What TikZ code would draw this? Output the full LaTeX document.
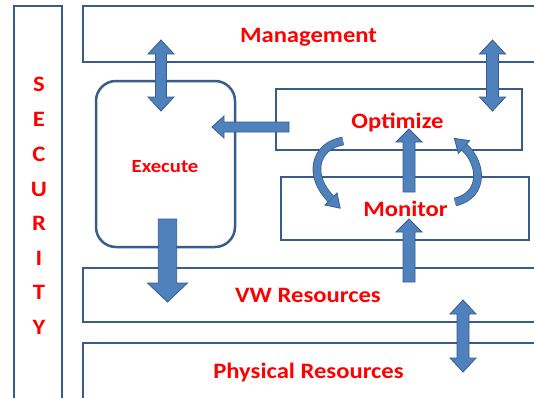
\documentclass[tikz,border=0pt]{standalone}
\usepackage{fontspec}
\setmainfont{Carlito}
\usepackage{graphicx}
\definecolor{bline}{HTML}{385D8A}
\definecolor{afill}{HTML}{4F81BD}
\newcommand{\lblw}[1]{\scalebox{1.12}[1]{#1}}
% vertical block arrow: x, tail y, tip y, shaft half, head half, signed head length
\newcommand{\blkV}[6]{%
  \filldraw[blk] ({#1-#4},{#2}) -- ({#1-#4},{#3+#6}) -- ({#1-#5},{#3+#6}) -- ({#1},{#3})
    -- ({#1+#5},{#3+#6}) -- ({#1+#4},{#3+#6}) -- ({#1+#4},{#2}) -- cycle;}
% vertical double block arrow: x, top, bottom, shaft half, head half, head length
\newcommand{\blkVV}[6]{%
  \filldraw[blk] ({#1},{#2}) -- ({#1+#5},{#2+#6}) -- ({#1+#4},{#2+#6}) -- ({#1+#4},{#3-#6})
    -- ({#1+#5},{#3-#6}) -- ({#1},{#3}) -- ({#1-#5},{#3-#6}) -- ({#1-#4},{#3-#6})
    -- ({#1-#4},{#2+#6}) -- ({#1-#5},{#2+#6}) -- cycle;}
% horizontal block arrow: y, tail x, tip x, shaft half, head half, signed head length
\newcommand{\blkH}[6]{%
  \filldraw[blk] ({#2},{#1-#4}) -- ({#3+#6},{#1-#4}) -- ({#3+#6},{#1-#5}) -- ({#3},{#1})
    -- ({#3+#6},{#1+#5}) -- ({#3+#6},{#1+#4}) -- ({#2},{#1+#4}) -- cycle;}
\tikzset{
  box/.style={draw=bline, line width=2.5pt, rectangle, inner sep=0pt},
  blk/.style={fill=afill, draw=bline, line width=0.8pt, line join=miter},
  band/.style={draw=bline, line width=0.8pt, double=afill, double distance=7pt},
  lbl/.style={text=red, font=\bfseries\fontsize{22}{22}\selectfont, anchor=base, inner sep=0pt},
}
\begin{document}
\begin{tikzpicture}[x=1pt,y=-1pt]
\useasboundingbox (0,0) rectangle (534,397);
\fill[white] (0,0) rectangle (534,397);
\clip (0,0) rectangle (534,397);

% boxes
\node[box, minimum width=48, minimum height=404] (sec) at (38,208) {};
\node[box, minimum width=477, minimum height=56] (mgmt) at (321.5,34) {};
\node[box, minimum width=246, minimum height=61] (opt) at (399,119.5) {};
\node[box, minimum width=248, minimum height=63] (mon) at (405,208.5) {};
\node[box, minimum width=477, minimum height=54] (vw) at (321.5,295) {};
\node[box, minimum width=477, minimum height=77] (phys) at (321.5,381.5) {};
\node[box, rounded corners=20pt, minimum width=139, minimum height=166] (exec) at (165.5,164) {};

% labels
\node[lbl] (tmgmt) at (308.5,42) {\lblw{Management}};
\node[lbl] (topt) at (397.5,128) {\lblw{Optimize}};
\node[lbl, font=\bfseries\fontsize{18.5}{18.5}\selectfont] (texec) at (165,172.5) {\lblw{Execute}};
\node[lbl] (tmon) at (405.5,216) {\lblw{Monitor}};
\node[lbl] (tvw) at (308,302) {\lblw{VW Resources}};
\node[lbl] (tphys) at (308.5,378) {\lblw{Physical Resources}};
\node[lbl] (s1) at (39,91) {\lblw{S}};
\node[lbl] (s2) at (39,126) {\lblw{E}};
\node[lbl] (s3) at (39,161) {\lblw{C}};
\node[lbl] (s4) at (39,196) {\lblw{U}};
\node[lbl] (s5) at (39,230) {\lblw{R}};
\node[lbl] (s6) at (39,265) {\lblw{I}};
\node[lbl] (s7) at (39,299) {\lblw{T}};
\node[lbl] (s8) at (39,334) {\lblw{Y}};

% block arrows
\blkVV{161}{40}{111}{5.5}{13}{14}
\blkVV{492.5}{40}{111}{6}{13}{14}
\blkH{127}{289}{212}{5}{11}{12}
\blkV{409}{192}{129}{6}{13}{13}
\blkV{409}{282}{219}{6}{13}{13}
\blkV{167.5}{219}{302}{9.2}{20}{-19}
\blkVV{463}{300}{372}{6}{13}{14}

% curved arrows
\filldraw[blk] (337.0,193.0) -- (340.2,208.2) -- (325.0,205.0) -- cycle;
\draw[band] (343,141) .. controls (314,146) and (308,176) .. (331,199);
\filldraw[blk] (469.6,140.6) -- (454.3,138.4) -- (458.4,153.4) -- cycle;
\draw[band] (455,202) .. controls (485,195) and (482,163) .. (464,147);
\end{tikzpicture}
\end{document}
